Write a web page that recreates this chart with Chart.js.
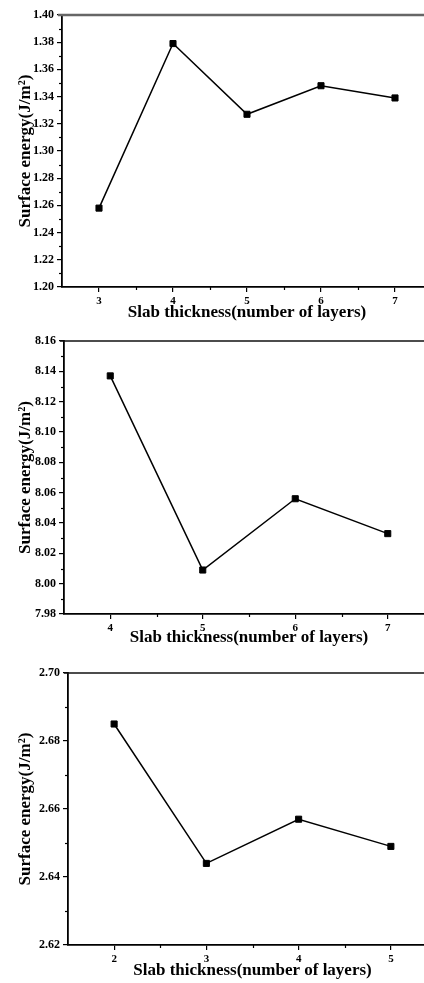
<!DOCTYPE html>
<html>
<head>
<meta charset="utf-8">
<script src="https://cdn.jsdelivr.net/npm/chart.js@4.4.1/dist/chart.umd.min.js"></script>
<style>
  html, body { margin: 0; padding: 0; background: #fff; overflow: hidden; width: 424px; height: 983px; }
  canvas { position: absolute; left: 0; }
</style>
</head>
<body>
<canvas id="c1" width="450" height="325" style="top:0px"></canvas>
<canvas id="c2" width="450" height="325" style="top:325px"></canvas>
<canvas id="c3" width="450" height="333" style="top:650px"></canvas>
<script>
// ---- data ----
const xTitle = "Slab thickness(number of layers)";
const yTitle = "Surface energy(J/m\u00B2)";

const layers1 = [3, 4, 5, 6, 7];
const energy1 = [1.258, 1.379, 1.327, 1.348, 1.339];
const yTicks1 = [1.20, 1.22, 1.24, 1.26, 1.28, 1.30, 1.32, 1.34, 1.36, 1.38, 1.40];

const layers2 = [4, 5, 6, 7];
const energy2 = [8.137, 8.009, 8.056, 8.033];
const yTicks2 = [7.98, 8.00, 8.02, 8.04, 8.06, 8.08, 8.10, 8.12, 8.14, 8.16];

const layers3 = [2, 3, 4, 5];
const energy3 = [2.685, 2.644, 2.657, 2.649];
const yTicks3 = [2.62, 2.64, 2.66, 2.68, 2.70];

const FONT = "'Liberation Serif', 'Times New Roman', serif";

function makeChart(id, layers, energy, yTicks, cfg) {
  const minorPlugin = {
    id: 'minorAndFrame',
    afterDraw(chart) {
      const ctx = chart.ctx;
      const xs = chart.scales.x, ys = chart.scales.y;
      const a = chart.chartArea;
      ctx.save();
      ctx.strokeStyle = '#000';
      ctx.lineWidth = 1.2;
      for (let i = 0; i < layers.length - 1; i++) {
        const px = Math.round(xs.getPixelForValue((layers[i] + layers[i + 1]) / 2)) + 0.5;
        ctx.beginPath();
        ctx.moveTo(px, a.bottom);
        ctx.lineTo(px, a.bottom + 3);
        ctx.stroke();
      }
      for (let i = 0; i < yTicks.length - 1; i++) {
        const py = Math.round(ys.getPixelForValue((yTicks[i] + yTicks[i + 1]) / 2)) + 0.5;
        ctx.beginPath();
        ctx.moveTo(a.left, py);
        ctx.lineTo(a.left - 3, py);
        ctx.stroke();
      }
      ctx.strokeStyle = cfg.topColor;
      ctx.lineWidth = cfg.topWidth;
      ctx.beginPath();
      ctx.moveTo(a.left - 4, a.top);
      ctx.lineTo(chart.width, a.top);
      ctx.stroke();
      ctx.restore();
    }
  };

  return new Chart(document.getElementById(id), {
    type: 'line',
    data: {
      datasets: [{
        data: layers.map((l, i) => ({ x: l, y: energy[i] })),
        borderColor: '#000',
        borderWidth: 1.5,
        backgroundColor: '#000',
        pointStyle: 'rect',
        pointRadius: 4.3,
        pointBorderWidth: 1,
        pointBorderColor: '#000',
        pointBackgroundColor: '#000',
        tension: 0,
        fill: false
      }]
    },
    options: {
      responsive: false,
      animation: false,
      devicePixelRatio: 1,
      events: [],
      layout: { padding: { top: cfg.top, right: cfg.right, left: 0, bottom: 0 } },
      plugins: { legend: { display: false }, tooltip: { enabled: false } },
      scales: {
        x: {
          type: 'linear',
          min: layers[0] - 0.5,
          max: layers[layers.length - 1] + 0.5,
          afterBuildTicks: (s) => { s.ticks = layers.map(v => ({ value: v })); },
          afterFit: (s) => { s.height = cfg.xh; },
          grid: { display: true, drawOnChartArea: false, drawTicks: true, tickLength: 5, color: '#000', lineWidth: 1.2 },
          border: { display: true, color: '#000', width: 1.8 },
          ticks: {
            padding: 3, color: '#000', autoSkip: false, maxRotation: 0,
            font: { family: FONT, size: 11, weight: 'bold' },
            callback: (v) => String(v)
          },
          title: {
            display: true, text: xTitle, color: '#000',
            font: { family: FONT, size: 17, weight: 'bold' },
            padding: { top: 0, bottom: 2 }
          }
        },
        y: {
          type: 'linear',
          min: yTicks[0],
          max: yTicks[yTicks.length - 1],
          afterBuildTicks: (s) => { s.ticks = yTicks.map(v => ({ value: v })); },
          afterFit: (s) => { s.width = cfg.left; },
          grid: { display: true, drawOnChartArea: false, drawTicks: true, tickLength: 5, color: '#000', lineWidth: 1.2 },
          border: { display: true, color: '#000', width: 1.8 },
          ticks: {
            padding: 3, color: '#000',
            font: { family: FONT, size: 12, weight: 'bold' },
            callback: (v) => Number(v).toFixed(2)
          },
          title: {
            display: true, text: yTitle, color: '#000',
            font: { family: FONT, size: 17, weight: 'bold' },
            padding: { top: 15, bottom: 0 }
          }
        }
      }
    },
    plugins: [minorPlugin]
  });
}

makeChart('c1', layers1, energy1, yTicks1, { top: 15, right: 18, left: 62, xh: 38, topColor: '#666', topWidth: 2.5 });
makeChart('c2', layers2, energy2, yTicks2, { top: 16, right: 16, left: 64, xh: 36, topColor: '#111', topWidth: 1.6 });
makeChart('c3', layers3, energy3, yTicks3, { top: 23, right: 13, left: 68, xh: 38, topColor: '#111', topWidth: 1.6 });
</script>
</body>
</html>
